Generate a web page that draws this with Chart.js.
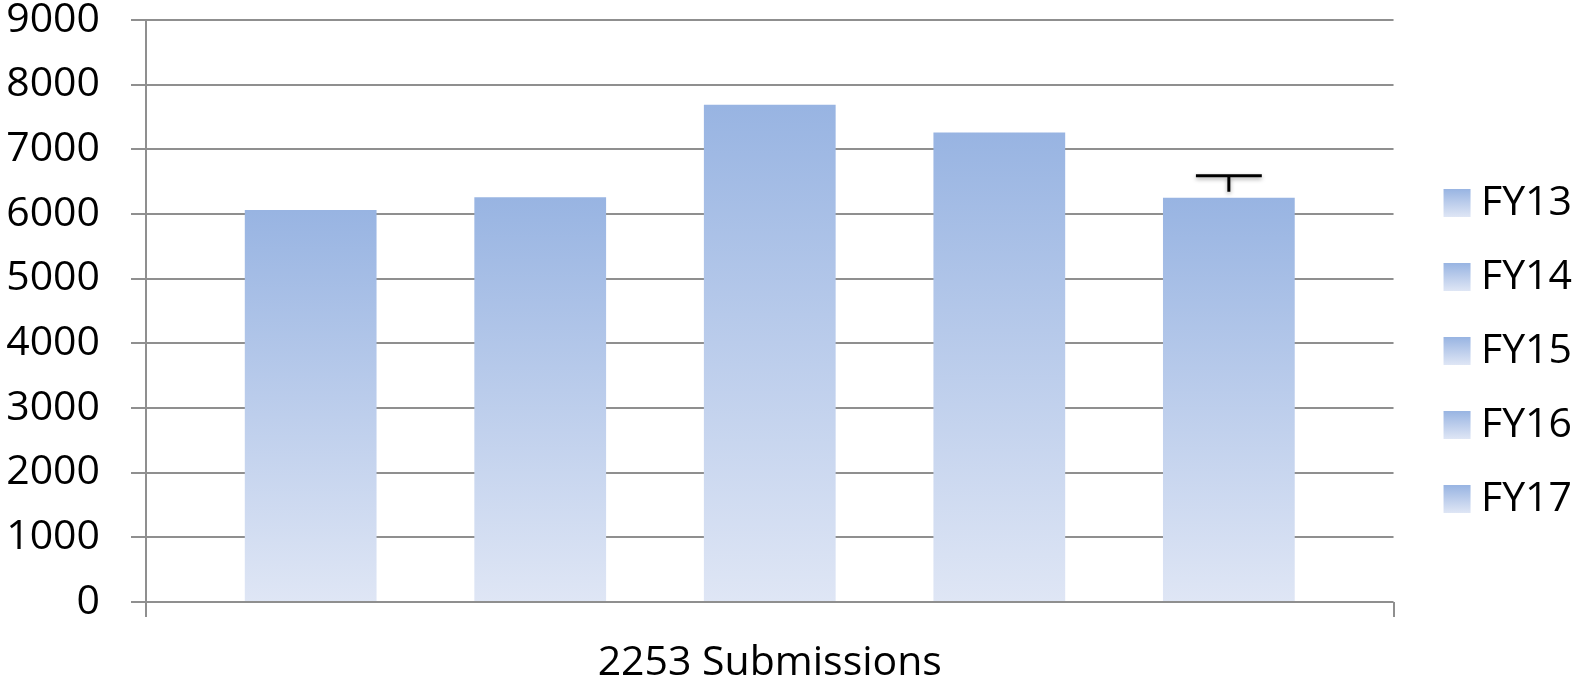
<!DOCTYPE html>
<html>
<head>
<meta charset="utf-8">
<title>2253 Submissions</title>
<script src="https://cdn.jsdelivr.net/npm/chart.js@4"></script>
<style>
  html, body { margin: 0; padding: 0; background: #fff; }
  #wrap { width: 1577px; height: 684px; }
</style>
</head>
<body>
<div id="wrap"><canvas id="mycanvas"></canvas></div>
<script>
// chart data
var categories = ['2253 Submissions'];
var seriesNames = ['FY13', 'FY14', 'FY15', 'FY16', 'FY17'];
var seriesValues = [6060, 6260, 7690, 7260, 6250];
var errorPlus = [0, 0, 0, 0, 340]; // only FY17 has an error bar
var yTicks = [0, 1000, 2000, 3000, 4000, 5000, 6000, 7000, 8000, 9000];

var FONT = 'Open Sans';
var TOP_BLUE = '#98b4e2';
var BOTTOM_BLUE = '#dfe6f5';
var GRID = '#8f8f8f';

// vertical gradient for each bar, dark on top, light at the base
function barFill(context) {
  var chart = context.chart;
  if (!chart.chartArea || context.raw === undefined) return TOP_BLUE;
  var y = chart.scales.y;
  var g = chart.ctx.createLinearGradient(0, y.getPixelForValue(context.raw), 0, y.getPixelForValue(0));
  g.addColorStop(0, TOP_BLUE);
  g.addColorStop(1, BOTTOM_BLUE);
  return g;
}

// plus-only error bars, drawn through the y scale
var errorBars = {
  id: 'errorBars',
  afterDatasetsDraw: function(chart) {
    var ctx = chart.ctx;
    var y = chart.scales.y;
    chart.data.datasets.forEach(function(ds, i) {
      var err = errorPlus[i];
      if (!err) return;
      var bar = chart.getDatasetMeta(i).data[0];
      var yTop = y.getPixelForValue(ds.data[0] + err);
      var yVal = y.getPixelForValue(ds.data[0]);
      var half = bar.width / 4;
      ctx.save();
      ctx.strokeStyle = '#000';
      ctx.lineWidth = 3;
      ctx.shadowColor = 'rgba(0,0,0,0.35)';
      ctx.shadowBlur = 4;
      ctx.shadowOffsetY = 2;
      ctx.beginPath();
      ctx.moveTo(bar.x - half, yTop);
      ctx.lineTo(bar.x + half, yTop);
      ctx.moveTo(bar.x, yTop);
      ctx.lineTo(bar.x, yVal - 6);
      ctx.stroke();
      ctx.restore();
    });
  }
};

// legend swatches with the same gradient as the bars
var legendSwatches = {
  id: 'legendSwatches',
  afterDraw: function(chart) {
    var boxes = chart.legend && chart.legend.legendHitBoxes;
    if (!boxes) return;
    var ctx = chart.ctx;
    boxes.forEach(function(h) {
      var x = h.left + 1;
      var top = h.top + (h.height - 28) / 2;
      var g = ctx.createLinearGradient(0, top, 0, top + 28);
      g.addColorStop(0, TOP_BLUE);
      g.addColorStop(1, BOTTOM_BLUE);
      ctx.save();
      ctx.fillStyle = g;
      ctx.fillRect(x, top, 27, 28);
      ctx.restore();
    });
  }
};

var datasets = seriesNames.map(function(name, i) {
  return {
    label: name,
    data: [seriesValues[i]],
    backgroundColor: barFill,
    borderWidth: 0,
    categoryPercentage: 0.92,
    barPercentage: 0.574
  };
});

var ctx = document.getElementById('mycanvas');

new Chart(ctx, {
  type: 'bar',
  data: { labels: categories, datasets: datasets },
  plugins: [errorBars, legendSwatches],
  options: {
    responsive: true,
    maintainAspectRatio: false,
    animation: false,
    layout: { padding: { left: 5, right: -5, top: 0, bottom: 0 } },
    plugins: {
      tooltip: { enabled: false },
      legend: {
        position: 'right',
        title: { display: true, text: ' ', font: { size: 10, lineHeight: 1.2 }, padding: 3 },
        labels: {
          color: '#000',
          font: { family: FONT, size: 41 },
          boxWidth: 18,
          boxHeight: 28,
          padding: 33,
          generateLabels: function(chart) {
            return chart.data.datasets.map(function(ds, i) {
              return {
                text: ds.label,
                fillStyle: 'rgba(0,0,0,0)',
                strokeStyle: 'rgba(0,0,0,0)',
                lineWidth: 0,
                datasetIndex: i,
                fontColor: '#000'
              };
            });
          }
        }
      }
    },
    scales: {
      x: {
        grid: {
          drawOnChartArea: false,
          drawTicks: true,
          tickLength: 15,
          color: GRID,
          lineWidth: 2
        },
        border: { display: false },
        ticks: {
          color: '#000',
          font: { family: FONT, size: 41, lineHeight: 1.0 },
          padding: 26
        },
        afterFit: function(scale) { scale.height = 82; }
      },
      y: {
        min: 0,
        max: 9000,
        afterBuildTicks: function(axis) {
          axis.ticks = yTicks.map(function(v) { return { value: v }; });
        },
        grid: {
          color: GRID,
          lineWidth: 2,
          tickLength: 15
        },
        border: { display: true, color: GRID, width: 2 },
        ticks: {
          color: '#000',
          font: { family: FONT, size: 41, lineHeight: 1.0 },
          padding: 31,
          callback: function(v) { return String(v); }
        },
        afterFit: function(scale) {
          scale.width = 141;
          scale.paddingTop = 20;
          scale.paddingBottom = 20;
        }
      },
      // empty spacer between the plot and the legend
      gap: {
        type: 'linear',
        position: 'right',
        display: true,
        grid: { display: false },
        border: { display: false },
        ticks: { display: false },
        afterFit: function(scale) {
          scale.width = 16;
          scale.paddingTop = 0;
          scale.paddingBottom = 0;
        }
      }
    }
  }
});
</script>
</body>
</html>
